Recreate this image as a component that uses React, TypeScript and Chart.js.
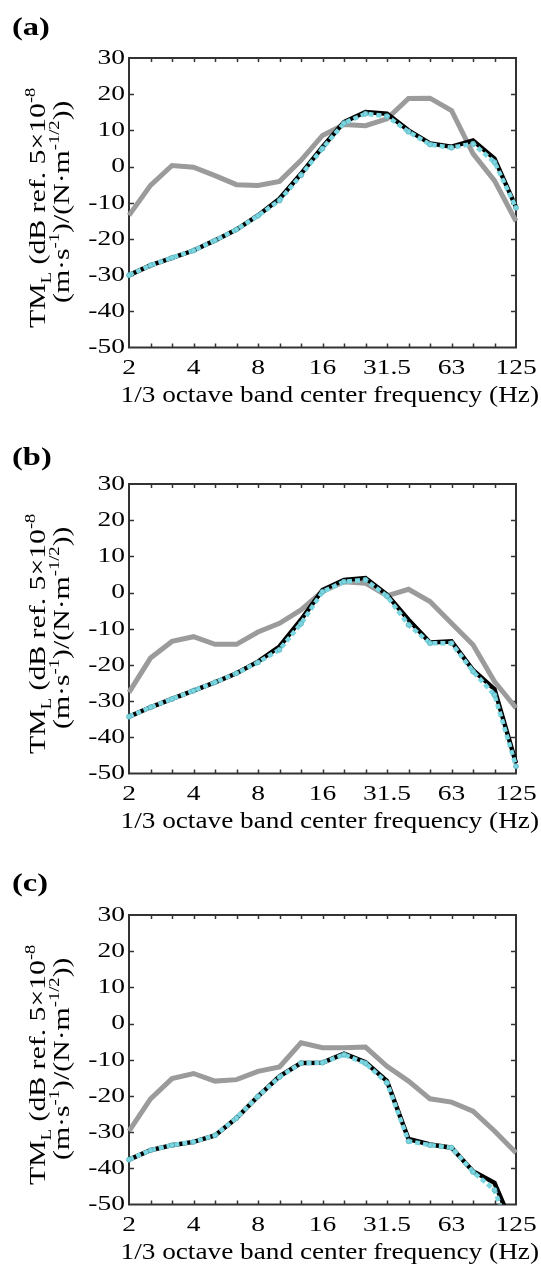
import React, { useEffect, useRef } from 'react';
import { Chart, registerables } from 'chart.js';

Chart.register(...registerables);

// 1/3 octave band centre frequencies (Hz)
const bandLabels = ['2', '2.5', '3.15', '4', '5', '6.3', '8', '10', '12.5', '16', '20', '25', '31.5', '40', '50', '63', '80', '100', '125'];
const tickLabels = ['2', '4', '8', '16', '31.5', '63', '125'];
const yTicks = [-50, -40, -30, -20, -10, 0, 10, 20, 30];

// Panel (a)
const grayA = [-13.5, -5.2, 0.3, -0.2, -2.5, -5.0, -5.2, -4.1, 1.7, 8.6, 11.6, 11.3, 13.2, 18.8, 18.9, 15.5, 3.6, -3.9, -15.1];
const blackA = [-30.0, -27.3, -25.2, -23.2, -20.4, -17.4, -13.5, -8.9, -2.0, 5.4, 12.3, 15.1, 14.6, 10.0, 6.4, 5.5, 7.2, 2.2, -11.2];
const cyanA = [-30.0, -27.3, -25.2, -23.2, -20.4, -17.4, -13.6, -9.4, -2.4, 5.0, 12.0, 14.6, 13.9, 9.6, 6.1, 5.2, 6.3, 1.2, -11.4];

// Panel (b)
const grayB = [-27.6, -18.1, -13.5, -12.2, -14.3, -14.3, -10.9, -8.5, -4.8, 0.3, 3.0, 2.6, -0.9, 0.9, -2.5, -8.5, -14.4, -24.6, -31.9];
const blackB = [-34.3, -31.7, -29.4, -27.1, -24.8, -22.3, -19.1, -14.9, -7.5, 0.7, 3.5, 4.0, -0.6, -7.5, -13.8, -13.5, -21.4, -26.7, -47.1];
const cyanB = [-34.3, -31.7, -29.4, -27.1, -24.8, -22.3, -19.3, -15.8, -8.6, 0.2, 3.0, 3.5, -1.0, -8.9, -14.0, -14.0, -21.8, -28.3, -48.0];

// Panel (c)
const grayC = [-29.7, -20.8, -15.2, -13.8, -15.9, -15.5, -13.2, -12.0, -5.3, -6.7, -6.7, -6.5, -11.8, -15.9, -20.8, -21.7, -24.2, -29.7, -35.7];
const blackC = [-37.6, -35.0, -33.6, -32.7, -30.9, -26.1, -20.1, -14.6, -10.9, -10.8, -8.3, -10.7, -15.9, -31.9, -33.4, -34.3, -40.8, -44.0, -58.0];
const cyanC = [-37.6, -35.0, -33.6, -32.7, -30.9, -26.1, -20.1, -14.8, -10.9, -10.8, -8.6, -11.0, -16.4, -32.5, -33.6, -34.3, -41.0, -46.0, -62.0];

const xTitle = '1/3 octave band center frequency (Hz)';
const FONT = '"Liberation Serif", "Times New Roman", Times, serif';
const CANVAS_H = 407;
const PLOT_TOP = 58;
const PLOT_BOTTOM = 347.5;
const PLOT_LEFT = 129;
const PLOT_RIGHT = 516;

const TICK_SIZE = 22;
const TICK_STRETCH = 1.25;
const TITLE_SIZE = 24;
const YTITLE_STRETCH = 1.24;
const XTITLE_LEFT = 120.5;
const XTITLE_RIGHT = 539;

type Seg = { t: string; size: number; dy: number };

const titleLine1: Seg[] = [
  { t: 'TM', size: TITLE_SIZE, dy: 0 },
  { t: 'L', size: 15, dy: 6 },
  { t: ' (dB ref. 5×10', size: TITLE_SIZE, dy: 0 },
  { t: '-8', size: 15, dy: -10 },
];
const titleLine2: Seg[] = [
  { t: '(m·s', size: TITLE_SIZE, dy: 0 },
  { t: '-1', size: 15, dy: -10 },
  { t: ')/(N·m', size: TITLE_SIZE, dy: 0 },
  { t: '-1/2', size: 15, dy: -10 },
  { t: '))', size: TITLE_SIZE, dy: 0 },
];

function drawRich(ctx: CanvasRenderingContext2D, segs: Seg[], bx: number, cy: number, stretch: number) {
  ctx.save();
  ctx.translate(bx, cy);
  ctx.rotate(-Math.PI / 2);
  ctx.scale(stretch, 1);
  ctx.textBaseline = 'alphabetic';
  ctx.textAlign = 'left';
  ctx.fillStyle = '#000';
  let w = 0;
  for (const s of segs) {
    ctx.font = `${s.size}px ${FONT}`;
    w += ctx.measureText(s.t).width;
  }
  let x = -w / 2;
  for (const s of segs) {
    ctx.font = `${s.size}px ${FONT}`;
    ctx.fillText(s.t, x, s.dy);
    x += ctx.measureText(s.t).width;
  }
  ctx.restore();
}

function drawStretched(
  ctx: CanvasRenderingContext2D,
  text: string,
  x: number,
  y: number,
  font: string,
  sx: number,
  align: CanvasTextAlign,
  baseline: CanvasTextBaseline,
) {
  ctx.save();
  ctx.translate(x, y);
  ctx.scale(sx, 1);
  ctx.font = font;
  ctx.textAlign = align;
  ctx.textBaseline = baseline;
  ctx.fillStyle = '#000';
  ctx.fillText(text, 0, 0);
  ctx.restore();
}

const framePlugin = {
  id: 'frame',
  beforeDatasetsDraw(chart: any) {
    const { ctx, chartArea, scales } = chart;
    const { left, right, top, bottom } = chartArea;
    ctx.save();
    ctx.strokeStyle = '#333';
    ctx.lineWidth = 1.5;
    ctx.beginPath();
    for (let i = 1; i < bandLabels.length - 1; i++) {
      const x = Math.round(scales.x.getPixelForValue(i)) + 0.5;
      ctx.moveTo(x, bottom);
      ctx.lineTo(x, bottom - 4);
      ctx.moveTo(x, top);
      ctx.lineTo(x, top + 4);
    }
    for (const v of yTicks.slice(1, -1)) {
      const y = Math.round(scales.y.getPixelForValue(v)) + 0.5;
      ctx.moveTo(left, y);
      ctx.lineTo(left + 5, y);
      ctx.moveTo(right, y);
      ctx.lineTo(right - 5, y);
    }
    ctx.stroke();
    ctx.lineWidth = 2;
    ctx.strokeRect(left, top, right - left, bottom - top);
    ctx.restore();
  },
};

function Panel({ top, label, labelY, gray, black, cyan }: any) {
  const ref = useRef<HTMLCanvasElement>(null);
  useEffect(() => {
    const textPlugin = {
      id: 'panelText',
      afterDraw(chart: any) {
        const { ctx, chartArea, scales } = chart;
        const tickFont = `${TICK_SIZE}px ${FONT}`;
        // y tick labels
        for (const v of yTicks) {
          const y = scales.y.getPixelForValue(v);
          drawStretched(ctx, String(v), chartArea.left - 4, y, tickFont, TICK_STRETCH, 'right', 'middle');
        }
        // x tick labels
        bandLabels.forEach((lab, i) => {
          if (!tickLabels.includes(lab)) return;
          const x = scales.x.getPixelForValue(i);
          drawStretched(ctx, lab, x, chartArea.bottom + 26, tickFont, TICK_STRETCH, 'center', 'alphabetic');
        });
        // x title, stretched to its span
        const titleFont = `${TITLE_SIZE}px ${FONT}`;
        ctx.save();
        ctx.font = titleFont;
        const tw = ctx.measureText(xTitle).width;
        ctx.restore();
        const sx = (XTITLE_RIGHT - XTITLE_LEFT) / tw;
        drawStretched(ctx, xTitle, XTITLE_LEFT, chartArea.bottom + 54, titleFont, sx, 'left', 'alphabetic');
        // panel label
        drawStretched(ctx, label, 12, labelY, `bold 26px ${FONT}`, 1.25, 'left', 'alphabetic');
        // y title
        const cy = (chartArea.top + chartArea.bottom) / 2;
        drawRich(ctx, titleLine1, 45, cy + 5, YTITLE_STRETCH);
        drawRich(ctx, titleLine2, 69, cy - 1, YTITLE_STRETCH);
      },
    };
    const chart = new Chart(ref.current as HTMLCanvasElement, {
      type: 'line',
      data: {
        labels: bandLabels,
        datasets: [
          { data: gray, order: 3, borderColor: '#9b9b9b', borderWidth: 5, pointRadius: 0, tension: 0 },
          { data: black, order: 2, borderColor: '#000000', borderWidth: 4.5, pointRadius: 0, tension: 0 },
          {
            data: cyan,
            order: 1,
            borderColor: '#7ad6e0',
            borderWidth: 4.5,
            borderDash: [5, 3],
            borderCapStyle: 'butt',
            pointRadius: 2.5,
            pointBackgroundColor: '#7ad6e0',
            pointBorderColor: '#5fb3bd',
            pointBorderWidth: 0.8,
            tension: 0,
          },
        ],
      } as any,
      options: {
        animation: false,
        responsive: false,
        maintainAspectRatio: false,
        events: [],
        layout: { padding: { top: PLOT_TOP, right: 541 - PLOT_RIGHT, left: 0, bottom: 0 } },
        plugins: { legend: { display: false }, tooltip: { enabled: false }, title: { display: false } },
        scales: {
          x: {
            type: 'category',
            offset: false,
            grid: { display: false, drawTicks: false },
            border: { display: false },
            ticks: { display: false, autoSkip: false },
            afterFit: (s: any) => {
              s.height = CANVAS_H - PLOT_BOTTOM;
            },
          },
          y: {
            type: 'linear',
            min: -50,
            max: 30,
            grid: { display: false, drawTicks: false },
            border: { display: false },
            ticks: { display: false, stepSize: 10 },
            afterFit: (s: any) => {
              s.width = PLOT_LEFT;
            },
          },
        },
      } as any,
      plugins: [framePlugin, textPlugin],
    });
    return () => chart.destroy();
  }, []);
  return (
    <canvas
      ref={ref}
      width={541}
      height={CANVAS_H}
      style={{ position: 'absolute', left: 0, top, width: 541, height: CANVAS_H }}
    />
  );
}

export default function App() {
  return (
    <div style={{ position: 'absolute', left: 0, top: 0, width: 541, height: 1264, overflow: 'hidden', background: '#fff' }}>
      <Panel top={0} label="(a)" labelY={35} gray={grayA} black={blackA} cyan={cyanA} />
      <Panel top={426} label="(b)" labelY={39} gray={grayB} black={blackB} cyan={cyanB} />
      <Panel top={857} label="(c)" labelY={34} gray={grayC} black={blackC} cyan={cyanC} />
    </div>
  );
}
